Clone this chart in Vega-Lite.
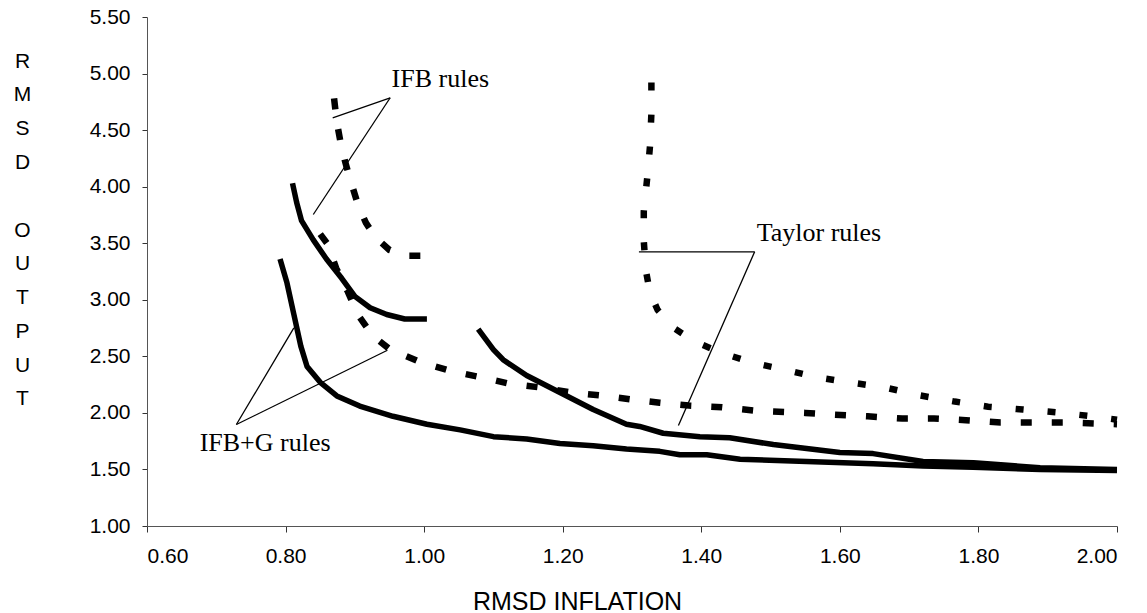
{
  "$schema": "https://vega.github.io/schema/vega-lite/v6.json",
  "width": 970,
  "height": 509,
  "autosize": {"type": "none"},
  "padding": {"left": 147, "top": 17, "right": 30, "bottom": 87},
  "background": "white",
  "config": {
    "view": {"stroke": null},
    "font": "Liberation Sans",
    "axis": {
      "grid": false,
      "domainColor": "#555555",
      "tickColor": "#333333",
      "labelColor": "black",
      "titleColor": "black",
      "labelFont": "Liberation Sans",
      "titleFont": "Liberation Sans",
      "labelFontSize": 21,
      "titleFontWeight": "normal"
    }
  },
  "encoding": {
    "x": {
      "field": "x",
      "type": "quantitative",
      "scale": {"domain": [0.6, 2.0], "nice": false, "zero": false},
      "axis": {
        "values": [0.6, 0.8, 1.0, 1.2, 1.4, 1.6, 1.8, 2.0],
        "format": ".2f",
        "tickSize": 6,
        "labelPadding": 13,
        "title": "RMSD INFLATION",
        "titleFontSize": 25,
        "titleAlign": "center",
        "titleBaseline": "alphabetic",
        "titleX": 430,
        "titleY": 83
      }
    },
    "y": {
      "field": "y",
      "type": "quantitative",
      "scale": {"domain": [1.0, 5.5], "nice": false, "zero": false},
      "axis": {
        "values": [1.0, 1.5, 2.0, 2.5, 3.0, 3.5, 4.0, 4.5, 5.0, 5.5],
        "format": ".2f",
        "tickSize": 5,
        "labelPadding": 12,
        "title": ["R", "M", "S", "D", "\u200b", "O", "U", "T", "P", "U", "T"],
        "titleFontSize": 21,
        "titleAngle": 0,
        "titleAlign": "center",
        "titleBaseline": "top",
        "titleLineHeight": 33.8,
        "titleX": -125,
        "titleY": 33
      }
    }
  },
  "layer": [
    {
      "data": {
        "values": [
          {"s": "IFB", "i": 1, "x": 0.810, "y": 4.03},
          {"s": "IFB", "i": 2, "x": 0.816, "y": 3.86},
          {"s": "IFB", "i": 3, "x": 0.823, "y": 3.70},
          {"s": "IFB", "i": 4, "x": 0.840, "y": 3.53},
          {"s": "IFB", "i": 5, "x": 0.859, "y": 3.36},
          {"s": "IFB", "i": 6, "x": 0.881, "y": 3.19},
          {"s": "IFB", "i": 7, "x": 0.900, "y": 3.03},
          {"s": "IFB", "i": 8, "x": 0.922, "y": 2.93},
          {"s": "IFB", "i": 9, "x": 0.946, "y": 2.87},
          {"s": "IFB", "i": 10, "x": 0.972, "y": 2.83},
          {"s": "IFB", "i": 11, "x": 1.004, "y": 2.83},
          {"s": "IFBG", "i": 1, "x": 0.792, "y": 3.36},
          {"s": "IFBG", "i": 2, "x": 0.802, "y": 3.15},
          {"s": "IFBG", "i": 3, "x": 0.812, "y": 2.87},
          {"s": "IFBG", "i": 4, "x": 0.822, "y": 2.59},
          {"s": "IFBG", "i": 5, "x": 0.831, "y": 2.41},
          {"s": "IFBG", "i": 6, "x": 0.850, "y": 2.27},
          {"s": "IFBG", "i": 7, "x": 0.874, "y": 2.15},
          {"s": "IFBG", "i": 8, "x": 0.907, "y": 2.06},
          {"s": "IFBG", "i": 9, "x": 0.955, "y": 1.97},
          {"s": "IFBG", "i": 10, "x": 1.004, "y": 1.90},
          {"s": "IFBG", "i": 11, "x": 1.052, "y": 1.85},
          {"s": "IFBG", "i": 12, "x": 1.100, "y": 1.79},
          {"s": "IFBG", "i": 13, "x": 1.148, "y": 1.77},
          {"s": "IFBG", "i": 14, "x": 1.196, "y": 1.73},
          {"s": "IFBG", "i": 15, "x": 1.244, "y": 1.71},
          {"s": "IFBG", "i": 16, "x": 1.292, "y": 1.68},
          {"s": "IFBG", "i": 17, "x": 1.340, "y": 1.66},
          {"s": "IFBG", "i": 18, "x": 1.369, "y": 1.63},
          {"s": "IFBG", "i": 19, "x": 1.408, "y": 1.63},
          {"s": "IFBG", "i": 20, "x": 1.456, "y": 1.59},
          {"s": "IFBG", "i": 21, "x": 1.552, "y": 1.57},
          {"s": "IFBG", "i": 22, "x": 1.648, "y": 1.55},
          {"s": "IFBG", "i": 23, "x": 1.720, "y": 1.53},
          {"s": "IFBG", "i": 24, "x": 1.792, "y": 1.52},
          {"s": "IFBG", "i": 25, "x": 1.889, "y": 1.50},
          {"s": "IFBG", "i": 26, "x": 2.000, "y": 1.49},
          {"s": "Taylor", "i": 1, "x": 1.078, "y": 2.74},
          {"s": "Taylor", "i": 2, "x": 1.100, "y": 2.56},
          {"s": "Taylor", "i": 3, "x": 1.114, "y": 2.47},
          {"s": "Taylor", "i": 4, "x": 1.148, "y": 2.33},
          {"s": "Taylor", "i": 5, "x": 1.196, "y": 2.18},
          {"s": "Taylor", "i": 6, "x": 1.244, "y": 2.03},
          {"s": "Taylor", "i": 7, "x": 1.292, "y": 1.90},
          {"s": "Taylor", "i": 8, "x": 1.311, "y": 1.88},
          {"s": "Taylor", "i": 9, "x": 1.345, "y": 1.82},
          {"s": "Taylor", "i": 10, "x": 1.398, "y": 1.79},
          {"s": "Taylor", "i": 11, "x": 1.441, "y": 1.78},
          {"s": "Taylor", "i": 12, "x": 1.504, "y": 1.72},
          {"s": "Taylor", "i": 13, "x": 1.600, "y": 1.65},
          {"s": "Taylor", "i": 14, "x": 1.648, "y": 1.64},
          {"s": "Taylor", "i": 15, "x": 1.720, "y": 1.57},
          {"s": "Taylor", "i": 16, "x": 1.793, "y": 1.56},
          {"s": "Taylor", "i": 17, "x": 1.889, "y": 1.515},
          {"s": "Taylor", "i": 18, "x": 2.000, "y": 1.50}
        ]
      },
      "mark": {"type": "line", "color": "black", "strokeWidth": 5.5, "strokeJoin": "round"},
      "encoding": {
        "detail": {"field": "s"},
        "order": {"field": "i", "type": "quantitative"}
      }
    },
    {
      "data": {
        "values": [
          {"s": "IFB", "i": 1, "x": 0.870, "y": 4.78},
          {"s": "IFB", "i": 2, "x": 0.874, "y": 4.57},
          {"s": "IFB", "i": 3, "x": 0.880, "y": 4.37},
          {"s": "IFB", "i": 4, "x": 0.886, "y": 4.22},
          {"s": "IFB", "i": 5, "x": 0.893, "y": 4.07},
          {"s": "IFB", "i": 6, "x": 0.905, "y": 3.83},
          {"s": "IFB", "i": 7, "x": 0.916, "y": 3.68},
          {"s": "IFB", "i": 8, "x": 0.930, "y": 3.55},
          {"s": "IFB", "i": 9, "x": 0.950, "y": 3.44},
          {"s": "IFB", "i": 10, "x": 0.975, "y": 3.39},
          {"s": "IFB", "i": 11, "x": 1.010, "y": 3.39},
          {"s": "IFBG", "i": 1, "x": 0.850, "y": 3.58},
          {"s": "IFBG", "i": 2, "x": 0.861, "y": 3.49},
          {"s": "IFBG", "i": 3, "x": 0.873, "y": 3.28},
          {"s": "IFBG", "i": 4, "x": 0.890, "y": 3.07},
          {"s": "IFBG", "i": 5, "x": 0.904, "y": 2.87},
          {"s": "IFBG", "i": 6, "x": 0.926, "y": 2.68},
          {"s": "IFBG", "i": 7, "x": 0.951, "y": 2.56},
          {"s": "IFBG", "i": 8, "x": 0.994, "y": 2.45},
          {"s": "IFBG", "i": 9, "x": 1.039, "y": 2.37},
          {"s": "IFBG", "i": 10, "x": 1.086, "y": 2.31},
          {"s": "IFBG", "i": 11, "x": 1.121, "y": 2.26},
          {"s": "IFBG", "i": 12, "x": 1.167, "y": 2.225},
          {"s": "IFBG", "i": 13, "x": 1.212, "y": 2.18},
          {"s": "IFBG", "i": 14, "x": 1.254, "y": 2.155},
          {"s": "IFBG", "i": 15, "x": 1.297, "y": 2.12},
          {"s": "IFBG", "i": 16, "x": 1.340, "y": 2.09},
          {"s": "IFBG", "i": 17, "x": 1.382, "y": 2.065},
          {"s": "IFBG", "i": 18, "x": 1.430, "y": 2.05},
          {"s": "IFBG", "i": 19, "x": 1.477, "y": 2.02},
          {"s": "IFBG", "i": 20, "x": 1.550, "y": 2.00},
          {"s": "IFBG", "i": 21, "x": 1.590, "y": 1.985},
          {"s": "IFBG", "i": 22, "x": 1.640, "y": 1.97},
          {"s": "IFBG", "i": 23, "x": 1.690, "y": 1.95},
          {"s": "IFBG", "i": 24, "x": 1.736, "y": 1.95},
          {"s": "IFBG", "i": 25, "x": 1.782, "y": 1.935},
          {"s": "IFBG", "i": 26, "x": 1.832, "y": 1.915},
          {"s": "IFBG", "i": 27, "x": 1.925, "y": 1.915},
          {"s": "IFBG", "i": 28, "x": 2.000, "y": 1.90}
        ]
      },
      "mark": {"type": "line", "color": "black", "strokeWidth": 6.5, "strokeDash": [11, 20], "strokeCap": "butt"},
      "encoding": {
        "detail": {"field": "s"},
        "order": {"field": "i", "type": "quantitative"}
      }
    },
    {
      "data": {
        "values": [
          {"s": "Taylor", "i": 1, "x": 1.328, "y": 4.92},
          {"s": "Taylor", "i": 2, "x": 1.328, "y": 4.65},
          {"s": "Taylor", "i": 3, "x": 1.326, "y": 4.36},
          {"s": "Taylor", "i": 4, "x": 1.322, "y": 4.08},
          {"s": "Taylor", "i": 5, "x": 1.317, "y": 3.78},
          {"s": "Taylor", "i": 6, "x": 1.317, "y": 3.52},
          {"s": "Taylor", "i": 7, "x": 1.320, "y": 3.26},
          {"s": "Taylor", "i": 8, "x": 1.326, "y": 3.06},
          {"s": "Taylor", "i": 9, "x": 1.337, "y": 2.91},
          {"s": "Taylor", "i": 10, "x": 1.359, "y": 2.755},
          {"s": "Taylor", "i": 11, "x": 1.391, "y": 2.63},
          {"s": "Taylor", "i": 12, "x": 1.427, "y": 2.535},
          {"s": "Taylor", "i": 13, "x": 1.473, "y": 2.445},
          {"s": "Taylor", "i": 14, "x": 1.518, "y": 2.385},
          {"s": "Taylor", "i": 15, "x": 1.567, "y": 2.315},
          {"s": "Taylor", "i": 16, "x": 1.614, "y": 2.27},
          {"s": "Taylor", "i": 17, "x": 1.665, "y": 2.225},
          {"s": "Taylor", "i": 18, "x": 1.715, "y": 2.155},
          {"s": "Taylor", "i": 19, "x": 1.766, "y": 2.10},
          {"s": "Taylor", "i": 20, "x": 1.814, "y": 2.055},
          {"s": "Taylor", "i": 21, "x": 1.864, "y": 2.03},
          {"s": "Taylor", "i": 22, "x": 1.913, "y": 2.005},
          {"s": "Taylor", "i": 23, "x": 1.964, "y": 1.97},
          {"s": "Taylor", "i": 24, "x": 2.000, "y": 1.94}
        ]
      },
      "mark": {"type": "line", "color": "black", "strokeWidth": 6.5, "strokeDash": [8, 24], "strokeCap": "butt"},
      "encoding": {
        "detail": {"field": "s"},
        "order": {"field": "i", "type": "quantitative"}
      }
    },
    {
      "data": {
        "values": [
          {"x": 0.951, "y": 4.786, "x2": 0.868, "y2": 4.609},
          {"x": 0.951, "y": 4.786, "x2": 0.840, "y2": 3.754},
          {"x": 1.477, "y": 3.424, "x2": 1.310, "y2": 3.424},
          {"x": 1.477, "y": 3.424, "x2": 1.367, "y2": 1.889},
          {"x": 0.729, "y": 1.897, "x2": 0.812, "y2": 2.752},
          {"x": 0.729, "y": 1.897, "x2": 0.947, "y2": 2.554}
        ]
      },
      "mark": {"type": "rule", "color": "black", "strokeWidth": 1.3},
      "encoding": {
        "x2": {"field": "x2"},
        "y2": {"field": "y2"}
      }
    },
    {
      "data": {
        "values": [
          {"x": 0.953, "y": 4.883, "label": "IFB rules"},
          {"x": 1.480, "y": 3.520, "label": "Taylor rules"},
          {"x": 0.676, "y": 1.661, "label": "IFB+G rules"}
        ]
      },
      "mark": {
        "type": "text",
        "align": "left",
        "baseline": "alphabetic",
        "font": "Liberation Serif",
        "fontSize": 26,
        "color": "black"
      },
      "encoding": {
        "text": {"field": "label"}
      }
    }
  ]
}
